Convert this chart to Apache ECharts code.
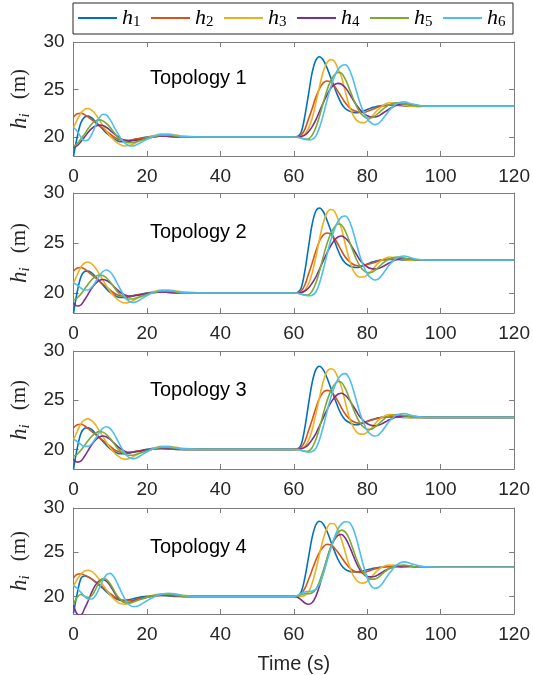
<!DOCTYPE html>
<html><head><meta charset="utf-8">
<script src="https://cdn.jsdelivr.net/npm/echarts@6/dist/echarts.min.js"></script>
<style>html,body{margin:0;padding:0;background:#fff}#c{width:533px;height:675px}</style>
</head><body><div id="c"></div>
<script>
// time samples (s)
const T = [0,1,2,3,4,5,6,7,8,9,10,11,12,13,14,15,16,17,18,20,22,24,26,28,30,35,40,50,60,
  61,62,63,64,65,66,67,68,69,70,71,72,73,74,75,76,77,78,79,80,81,82,83,84,85,86,88,90,92,94,96,100,110,120];

const seriesNames = ['h1','h2','h3','h4','h5','h6'];
const topologyTitles = ['Topology 1','Topology 2','Topology 3','Topology 4'];
const xTicks = [0,20,40,60,80,100,120];
const yTicks = [20,25,30];

// ---- Topology 1 ----
const topo1_h1 = [18.0,20.0,21.5,22.1,22.2,22.0,21.6,21.2,20.8,20.4,20.1,19.8,19.6,19.5,19.5,19.55,19.65,19.75,19.85, 20.0,20.1,20.1,20.05,20.0,20.0, 20.0,20.0,20.0,20.0,
  20.05,20.5,22.2,24.5,26.8,28.1,28.45,28.1,27.3,26.3,25.3,24.3,23.5,23.0,22.75,22.6,22.55,22.6,22.75,22.9,23.05,23.15,23.25,23.3,23.35,23.35, 23.35,23.3,23.25,23.25,23.25, 23.25,23.25,23.25];
const topo1_h2 = [22.1,22.45,22.5,22.35,22.1,21.8,21.5,21.2,20.9,20.6,20.3,20.0,19.8,19.7,19.65,19.65,19.7,19.8,19.85, 19.95,20.05,20.1,20.05,20.0,20.0, 20.0,20.0,20.0,20.0,
  20.02,20.2,20.8,21.9,23.0,24.2,25.1,25.7,25.9,25.8,25.4,24.8,24.2,23.6,23.15,22.85,22.7,22.6,22.6,22.7,22.85,23.0,23.15,23.25,23.3,23.35, 23.35,23.3,23.25,23.25,23.25, 23.25,23.25,23.25];
const topo1_h3 = [21.0,21.8,22.5,22.9,23.0,22.8,22.4,21.8,21.2,20.6,20.1,19.7,19.35,19.15,19.05,19.1,19.2,19.4,19.6, 19.9,20.15,20.3,20.3,20.2,20.1, 20.0,20.0,20.0,20.0,
  20.0,20.05,20.3,20.9,22.0,23.6,25.3,26.9,27.8,28.15,28.0,27.2,26.3,24.8,23.4,22.4,21.8,21.55,21.5,21.7,22.05,22.5,22.9,23.25,23.5,23.6, 23.55,23.35,23.25,23.2,23.25, 23.25,23.25,23.25];
const topo1_h4 = [18.9,19.1,19.5,20.0,20.5,20.9,21.15,21.25,21.2,21.0,20.7,20.35,20.05,19.8,19.65,19.6,19.6,19.65,19.7, 19.85,20.0,20.1,20.1,20.05,20.0, 20.0,20.0,20.0,20.0,
  20.0,20.05,20.2,20.55,21.1,21.8,22.7,23.6,24.4,25.1,25.5,25.65,25.55,25.2,24.65,24.0,23.4,22.9,22.5,22.25,22.1,22.1,22.2,22.45,22.7,22.95, 23.35,23.5,23.4,23.3,23.25, 23.25,23.25,23.25];
const topo1_h5 = [19.0,19.3,19.8,20.3,20.9,21.4,21.7,21.8,21.7,21.4,21.0,20.5,20.0,19.7,19.5,19.4,19.4,19.5,19.6, 19.85,20.05,20.2,20.2,20.1,20.0, 20.0,20.0,20.0,20.0,
  19.98,19.88,19.78,19.8,20.2,21.0,22.2,23.6,24.9,25.9,26.5,26.8,26.7,26.1,25.2,24.2,23.3,22.6,22.2,22.0,22.0,22.2,22.5,22.85,23.15,23.4, 23.6,23.5,23.35,23.25,23.25, 23.25,23.25,23.25];
const topo1_h6 = [21.0,20.6,20.0,19.6,19.7,20.3,21.2,22.0,22.4,22.3,21.8,21.1,20.4,19.8,19.35,19.1,19.05,19.15,19.35, 19.75,20.1,20.25,20.25,20.15,20.05, 20.0,20.0,20.0,20.0,
  19.98,19.9,19.78,19.7,19.75,20.1,21.0,22.3,23.8,25.2,26.3,27.1,27.5,27.6,27.2,26.2,24.9,23.6,22.6,21.9,21.5,21.3,21.4,21.8,22.3,22.8, 23.5,23.7,23.5,23.35,23.25, 23.25,23.25,23.25];

// ---- Topology 2 ----
const topo2_h1 = [18.0,20.1,21.6,22.15,22.2,22.0,21.6,21.2,20.8,20.4,20.05,19.8,19.6,19.55,19.55,19.6,19.7,19.8,19.85, 20.0,20.1,20.1,20.05,20.0,20.0, 20.0,20.0,20.0,20.0,
  20.05,20.5,22.2,24.6,26.9,28.2,28.5,28.15,27.3,26.3,25.3,24.3,23.5,23.0,22.75,22.6,22.55,22.6,22.75,22.9,23.05,23.15,23.25,23.3,23.35,23.35, 23.35,23.3,23.3,23.3,23.3, 23.3,23.3,23.3];
const topo2_h2 = [22.2,22.5,22.55,22.4,22.1,21.8,21.5,21.2,20.9,20.6,20.3,20.0,19.8,19.7,19.65,19.65,19.7,19.8,19.85, 19.95,20.05,20.1,20.05,20.0,20.0, 20.0,20.0,20.0,20.0,
  20.02,20.2,20.8,21.9,23.0,24.2,25.2,25.8,26.0,25.9,25.5,24.9,24.2,23.6,23.2,22.9,22.75,22.7,22.75,22.85,22.95,23.05,23.2,23.3,23.35,23.4, 23.4,23.35,23.3,23.3,23.3, 23.3,23.3,23.3];
const topo2_h3 = [21.0,21.8,22.6,23.0,23.1,22.9,22.5,21.9,21.3,20.7,20.15,19.7,19.35,19.1,19.0,19.05,19.2,19.4,19.6, 19.9,20.15,20.3,20.3,20.2,20.1, 20.0,20.0,20.0,20.0,
  20.0,20.05,20.3,20.9,22.0,23.6,25.4,27.0,28.0,28.35,28.2,27.4,26.4,24.9,23.5,22.4,21.8,21.6,21.6,21.8,22.15,22.6,23.0,23.3,23.5,23.6, 23.5,23.35,23.3,23.3,23.3, 23.3,23.3,23.3];
const topo2_h4 = [19.0,18.7,18.8,19.3,19.9,20.5,20.95,21.25,21.35,21.25,21.0,20.65,20.3,20.0,19.8,19.7,19.7,19.75,19.8, 19.95,20.05,20.1,20.1,20.05,20.0, 20.0,20.0,20.0,20.0,
  20.0,20.05,20.2,20.5,21.0,21.6,22.4,23.2,24.0,24.7,25.25,25.6,25.7,25.5,25.1,24.5,23.9,23.3,22.9,22.6,22.45,22.4,22.45,22.6,22.8,23.0, 23.35,23.45,23.4,23.3,23.3, 23.3,23.3,23.3];
const topo2_h5 = [19.3,19.5,19.9,20.4,20.9,21.35,21.65,21.8,21.75,21.5,21.1,20.6,20.1,19.75,19.5,19.4,19.4,19.5,19.6, 19.85,20.05,20.2,20.2,20.1,20.0, 20.0,20.0,20.0,20.0,
  19.98,19.88,19.8,19.82,20.2,21.0,22.2,23.6,24.9,25.9,26.55,26.9,26.8,26.2,25.3,24.3,23.4,22.7,22.25,22.05,22.05,22.25,22.55,22.9,23.2,23.4, 23.6,23.5,23.35,23.3,23.3, 23.3,23.3,23.3];
const topo2_h6 = [21.0,20.8,20.5,20.3,20.3,20.6,21.1,21.7,22.15,22.3,22.1,21.6,20.9,20.2,19.6,19.2,19.05,19.1,19.3, 19.75,20.1,20.25,20.25,20.15,20.05, 20.0,20.0,20.0,20.0,
  19.98,19.9,19.78,19.72,19.78,20.1,21.0,22.3,23.8,25.2,26.3,27.15,27.6,27.7,27.3,26.3,25.0,23.7,22.7,21.9,21.5,21.3,21.4,21.8,22.3,22.8, 23.5,23.7,23.5,23.35,23.3, 23.3,23.3,23.3];

// ---- Topology 3 ----
const topo3_h1 = [18.0,20.1,21.6,22.15,22.2,22.0,21.6,21.2,20.8,20.4,20.05,19.8,19.6,19.55,19.55,19.6,19.7,19.8,19.85, 20.0,20.1,20.1,20.05,20.0,20.0, 20.0,20.0,20.0,20.0,
  20.05,20.5,22.2,24.6,26.8,28.1,28.45,28.1,27.3,26.3,25.3,24.3,23.5,23.0,22.75,22.55,22.5,22.55,22.7,22.85,23.0,23.1,23.2,23.25,23.3,23.3, 23.3,23.25,23.25,23.25,23.25, 23.25,23.25,23.25];
const topo3_h2 = [22.2,22.5,22.55,22.4,22.1,21.8,21.5,21.2,20.9,20.6,20.3,20.0,19.8,19.7,19.65,19.65,19.7,19.8,19.85, 19.95,20.05,20.1,20.05,20.0,20.0, 20.0,20.0,20.0,20.0,
  20.02,20.2,20.8,21.9,23.0,24.2,25.2,25.8,26.0,25.9,25.5,24.9,24.2,23.6,23.15,22.85,22.7,22.65,22.7,22.8,22.95,23.05,23.15,23.25,23.3,23.35, 23.35,23.3,23.25,23.25,23.25, 23.25,23.25,23.25];
const topo3_h3 = [21.0,21.8,22.6,23.0,23.1,22.9,22.5,21.9,21.3,20.7,20.15,19.7,19.35,19.1,19.0,19.05,19.2,19.4,19.6, 19.9,20.15,20.3,20.3,20.2,20.1, 20.0,20.0,20.0,20.0,
  20.0,20.05,20.3,20.9,22.0,23.6,25.3,26.9,27.9,28.2,28.05,27.3,26.3,24.8,23.4,22.4,21.8,21.55,21.55,21.75,22.1,22.55,22.95,23.25,23.45,23.55, 23.5,23.3,23.25,23.25,23.25, 23.25,23.25,23.25];
const topo3_h4 = [19.0,18.7,18.8,19.3,19.9,20.5,20.95,21.25,21.35,21.25,21.0,20.65,20.3,20.0,19.8,19.7,19.7,19.75,19.8, 19.95,20.05,20.1,20.1,20.05,20.0, 20.0,20.0,20.0,20.0,
  20.0,20.05,20.2,20.5,21.0,21.6,22.4,23.2,24.0,24.7,25.25,25.6,25.7,25.5,25.1,24.5,23.9,23.3,22.9,22.6,22.45,22.4,22.45,22.6,22.8,23.0, 23.3,23.4,23.35,23.3,23.25, 23.25,23.25,23.25];
const topo3_h5 = [19.3,19.5,19.9,20.4,20.9,21.35,21.65,21.8,21.75,21.5,21.1,20.6,20.1,19.75,19.5,19.4,19.4,19.5,19.6, 19.85,20.05,20.2,20.2,20.1,20.0, 20.0,20.0,20.0,20.0,
  19.98,19.88,19.8,19.82,20.2,21.0,22.2,23.6,24.9,25.9,26.55,26.9,26.8,26.2,25.3,24.3,23.4,22.7,22.25,22.05,22.05,22.25,22.55,22.9,23.2,23.4, 23.55,23.45,23.3,23.25,23.25, 23.25,23.25,23.25];
const topo3_h6 = [21.0,20.8,20.5,20.3,20.3,20.6,21.1,21.7,22.15,22.3,22.1,21.6,20.9,20.2,19.6,19.2,19.05,19.1,19.3, 19.75,20.1,20.25,20.25,20.15,20.05, 20.0,20.0,20.0,20.0,
  19.98,19.9,19.78,19.72,19.78,20.1,21.0,22.3,23.8,25.2,26.3,27.15,27.6,27.7,27.3,26.3,25.0,23.7,22.7,21.9,21.5,21.35,21.45,21.85,22.35,22.85, 23.5,23.65,23.45,23.3,23.25, 23.25,23.25,23.25];

// ---- Topology 4 ----
const topo4_h1 = [18.1,20.3,22.0,22.3,22.2,21.95,21.6,21.25,20.9,20.5,20.15,19.85,19.65,19.55,19.55,19.6,19.7,19.8,19.9, 20.0,20.1,20.1,20.05,20.0,20.0, 20.0,20.0,20.0,20.0,
  20.05,20.5,22.1,24.4,26.7,28.1,28.5,28.2,27.4,26.3,25.2,24.2,23.5,23.05,22.85,22.75,22.75,22.8,22.9,23.0,23.1,23.2,23.25,23.3,23.35,23.35, 23.35,23.3,23.3,23.3,23.3, 23.3,23.3,23.3];
const topo4_h2 = [22.1,22.5,22.55,22.4,22.2,21.95,21.65,21.35,21.0,20.65,20.3,20.0,19.75,19.6,19.5,19.5,19.55,19.65,19.75, 19.9,20.05,20.1,20.1,20.05,20.0, 20.0,20.0,20.0,20.0,
  20.02,20.3,20.9,21.9,23.0,24.1,25.0,25.6,25.9,25.85,25.5,25.0,24.4,23.8,23.3,22.95,22.75,22.7,22.7,22.8,22.95,23.1,23.2,23.3,23.35,23.4, 23.4,23.35,23.3,23.3,23.3, 23.3,23.3,23.3];
const topo4_h3 = [21.2,21.9,22.5,22.85,22.95,22.8,22.45,21.9,21.3,20.7,20.15,19.7,19.35,19.15,19.1,19.15,19.3,19.45,19.6, 19.9,20.15,20.3,20.3,20.2,20.1, 20.0,20.0,20.0,20.0,
  20.0,20.0,20.1,20.5,21.5,23.0,24.8,26.5,27.7,28.25,28.2,27.5,26.4,25.0,23.6,22.5,21.85,21.55,21.5,21.7,22.1,22.6,23.0,23.3,23.5,23.55, 23.5,23.35,23.3,23.3,23.3, 23.3,23.3,23.3];
const topo4_h4 = [19.0,18.0,17.9,18.6,19.5,20.5,21.3,21.75,21.9,21.7,21.2,20.5,19.9,19.5,19.3,19.3,19.4,19.55,19.7, 19.9,20.05,20.15,20.15,20.1,20.0, 20.0,20.0,20.0,20.0,
  19.9,19.6,19.25,19.1,19.3,20.0,21.2,22.7,24.2,25.5,26.4,26.9,27.0,26.6,25.8,24.8,23.8,23.0,22.5,22.25,22.2,22.25,22.45,22.7,22.95,23.15, 23.4,23.45,23.4,23.3,23.3, 23.3,23.3,23.3];
const topo4_h5 = [19.1,19.9,20.2,20.0,19.85,20.1,20.8,21.6,22.0,21.9,21.4,20.7,20.0,19.55,19.3,19.25,19.35,19.5,19.65, 19.9,20.1,20.2,20.2,20.1,20.0, 20.0,20.0,20.0,20.0,
  20.05,20.2,20.3,20.3,20.4,20.8,21.7,22.9,24.2,25.5,26.5,27.2,27.5,27.3,26.6,25.5,24.3,23.3,22.6,22.15,21.95,21.95,22.15,22.5,22.85,23.15, 23.5,23.55,23.4,23.3,23.3, 23.3,23.3,23.3];
const topo4_h6 = [21.2,20.9,20.45,20.0,19.7,19.7,20.1,20.9,21.8,22.45,22.6,22.2,21.4,20.5,19.7,19.1,18.85,18.85,19.0, 19.5,19.95,20.25,20.35,20.25,20.1, 20.0,20.0,20.0,20.0,
  20.1,20.35,20.5,20.55,20.6,20.8,21.4,22.5,23.9,25.3,26.6,27.6,28.2,28.45,28.4,27.8,26.6,25.0,23.4,22.1,21.2,20.9,21.0,21.4,22.0,22.6, 23.55,23.9,23.7,23.45,23.35, 23.3,23.3,23.3];

const topologies = [
  [topo1_h1, topo1_h2, topo1_h3, topo1_h4, topo1_h5, topo1_h6],
  [topo2_h1, topo2_h2, topo2_h3, topo2_h4, topo2_h5, topo2_h6],
  [topo3_h1, topo3_h2, topo3_h3, topo3_h4, topo3_h5, topo3_h6],
  [topo4_h1, topo4_h2, topo4_h3, topo4_h4, topo4_h5, topo4_h6]
];

const colors = ['#0072BD','#D95319','#EDB120','#7E2F8E','#77AC30','#4DBEEE'];
const gridBoxes = [
  {top: 42, height: 114},
  {top: 193, height: 120},
  {top: 351, height: 118},
  {top: 508, height: 117}
];
const titleTops = [68, 222, 380, 537];

const axisColor = '#7d7d7d';
const labelColor = '#262626';
const sans = 'Liberation Sans, Arial, sans-serif';
const serif = 'Liberation Serif, Times New Roman, serif';

const grid = [], xAxis = [], yAxis = [], series = [], title = [];
gridBoxes.forEach((g, gi) => {
  grid.push({left: 71, right: 16, top: g.top, height: g.height, show: false});
  const tick = {show: true, inside: true, length: 5, lineStyle: {color: axisColor, width: 1}};
  const line = {show: true, onZero: false, lineStyle: {color: axisColor, width: 1}};
  xAxis.push({
    type: 'value', gridIndex: gi, position: 'bottom', min: 0, max: 120, interval: 20,
    axisLine: line, axisTick: tick, splitLine: {show: false},
    axisLabel: {color: labelColor, fontSize: 19, fontFamily: sans, margin: 11},
    name: gi === 3 ? 'Time (s)' : '', nameLocation: 'middle', nameGap: 40,
    nameTextStyle: {color: labelColor, fontSize: 20, fontFamily: sans}
  });
  xAxis.push({
    type: 'value', gridIndex: gi, position: 'top', min: 0, max: 120, interval: 20,
    axisLine: line, axisTick: tick, splitLine: {show: false}, axisLabel: {show: false}
  });
  yAxis.push({
    type: 'value', gridIndex: gi, position: 'left', min: 18, max: 30,
    axisLine: line, axisTick: Object.assign({customValues: yTicks}, tick), splitLine: {show: false},
    axisLabel: {customValues: yTicks, color: labelColor, fontSize: 19, fontFamily: sans, margin: 9},
    name: '{h|h}{i|i}{sp| }{m|(m)}', nameLocation: 'middle', nameRotate: 90, nameGap: 36,
    nameTextStyle: {
      color: labelColor,
      rich: {
        h: {fontFamily: serif, fontStyle: 'italic', fontSize: 23, lineHeight: 26, color: labelColor},
        i: {fontFamily: serif, fontStyle: 'italic', fontSize: 15, lineHeight: 15, verticalAlign: 'bottom', color: labelColor},
        sp: {width: 14, fontSize: 10},
        m: {fontFamily: serif, fontSize: 21, lineHeight: 26, color: labelColor}
      }
    }
  });
  yAxis.push({
    type: 'value', gridIndex: gi, position: 'right', min: 18, max: 30,
    axisLine: line, axisTick: Object.assign({customValues: yTicks}, tick), splitLine: {show: false},
    axisLabel: {show: false, customValues: yTicks}
  });
  title.push({
    text: topologyTitles[gi], left: 150, top: titleTops[gi], padding: 0,
    textStyle: {fontFamily: sans, fontSize: 20, fontWeight: 'normal', color: '#000'}
  });
  topologies[gi].forEach((vals, si) => {
    series.push({
      name: seriesNames[si], type: 'line', xAxisIndex: gi * 2, yAxisIndex: gi * 2,
      data: T.map((t, k) => [t, vals[k]]),
      showSymbol: false, smooth: 0.35, clip: true,
      lineStyle: {width: 1.6, color: colors[si]}, itemStyle: {color: colors[si]},
      emphasis: {disabled: true}
    });
  });
});

const chart = echarts.init(document.getElementById('c'), null, {renderer: 'canvas'});
chart.setOption({
  animation: false,
  backgroundColor: '#fff',
  color: colors,
  title: title,
  legend: {
    data: seriesNames, left: 73, top: 3, orient: 'horizontal',
    padding: [4, 7, 4, 5], itemGap: 10, itemWidth: 39, itemHeight: 2, icon: 'rect',
    borderColor: '#262626', borderWidth: 1, backgroundColor: '#fff',
    selectedMode: false,
    formatter: n => '{h|h}{s|' + n.slice(1) + '}',
    textStyle: {
      color: '#000', padding: [0, 0, 0, 0],
      rich: {
        h: {fontFamily: serif, fontStyle: 'italic', fontSize: 22, lineHeight: 24, width: 11, color: '#000'},
        s: {fontFamily: serif, fontSize: 15, lineHeight: 14, verticalAlign: 'bottom', width: 8, color: '#000'}
      }
    }
  },
  grid: grid, xAxis: xAxis, yAxis: yAxis, series: series
});
</script></body></html>
